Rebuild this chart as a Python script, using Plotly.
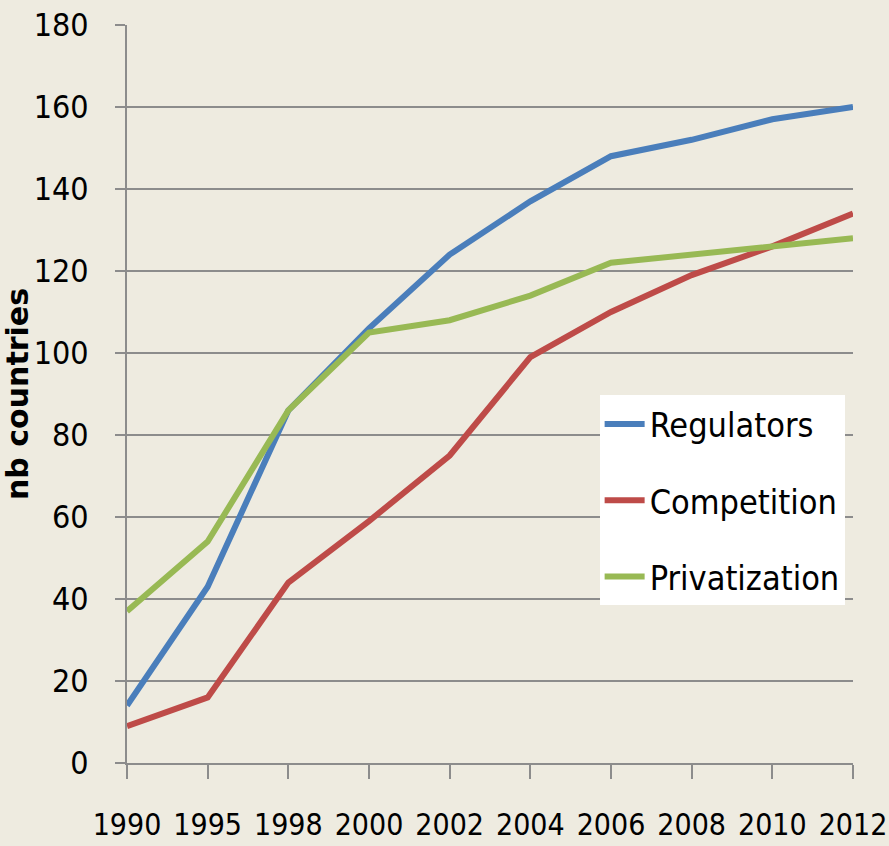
import plotly.graph_objects as go

years = ["1990", "1995", "1998", "2000", "2002", "2004", "2006", "2008", "2010", "2012"]
regulators = [14, 43, 86, 106, 124, 137, 148, 152, 157, 160]
competition = [9, 16, 44, 59, 75, 99, 110, 119, 126, 134]
privatization = [37, 54, 86, 105, 108, 114, 122, 124, 126, 128]

series = [
    ("Regulators", regulators, "#4A7EBB"),
    ("Competition", competition, "#BE4B48"),
    ("Privatization", privatization, "#98B954"),
]

bg = "#EEEBE0"
grid = "#8C8C8C"
narrow = "DejaVu Sans Condensed, sans-serif"

fig = go.Figure()
for name, vals, col in series:
    fig.add_trace(go.Scatter(
        x=years, y=vals, name=name, mode="lines",
        line=dict(color=col, width=6),
        legendgroup=name,
    ))

fig.update_layout(
    width=889, height=846,
    paper_bgcolor=bg, plot_bgcolor=bg,
    margin=dict(l=127, r=36, t=25, b=83),
    font=dict(family=narrow, size=31, color="black"),
    showlegend=True,
    legend=dict(
        x=0.651, y=0.498, xanchor="left", yanchor="top",
        bgcolor="white", borderwidth=0,
        font=dict(family=narrow, size=34, color="black"),
        tracegroupgap=29, itemwidth=40,
    ),
)

fig.update_xaxes(
    type="category", range=[0, 9], automargin=False,
    showgrid=False, showline=True, linecolor=grid, linewidth=2,
    ticks="outside", ticklen=14, tickcolor=grid, tickwidth=2,
    ticklabelstandoff=20, tickangle=0,
    tickfont=dict(family=narrow, size=30, color="black"),
)

fig.update_yaxes(
    range=[0, 180], dtick=20, automargin=False,
    showgrid=True, gridcolor=grid, gridwidth=2,
    showline=True, linecolor=grid, linewidth=2,
    ticks="outside", ticklen=10, tickcolor=grid, tickwidth=2,
    ticklabelstandoff=20, zeroline=False,
    tickfont=dict(family=narrow, size=32, color="black"),
    title=dict(text="<b>nb countries</b>", standoff=18,
               font=dict(family="DejaVu Sans", size=30, color="black")),
)

# drop the page's default body margin so the figure fills the window
fig.write_html(
    "out.html",
    config={"displayModeBar": False},
    post_script="document.body.style.margin='0';"
                "document.body.style.overflow='hidden';"
                "document.body.style.background='#EEEBE0';",
)
